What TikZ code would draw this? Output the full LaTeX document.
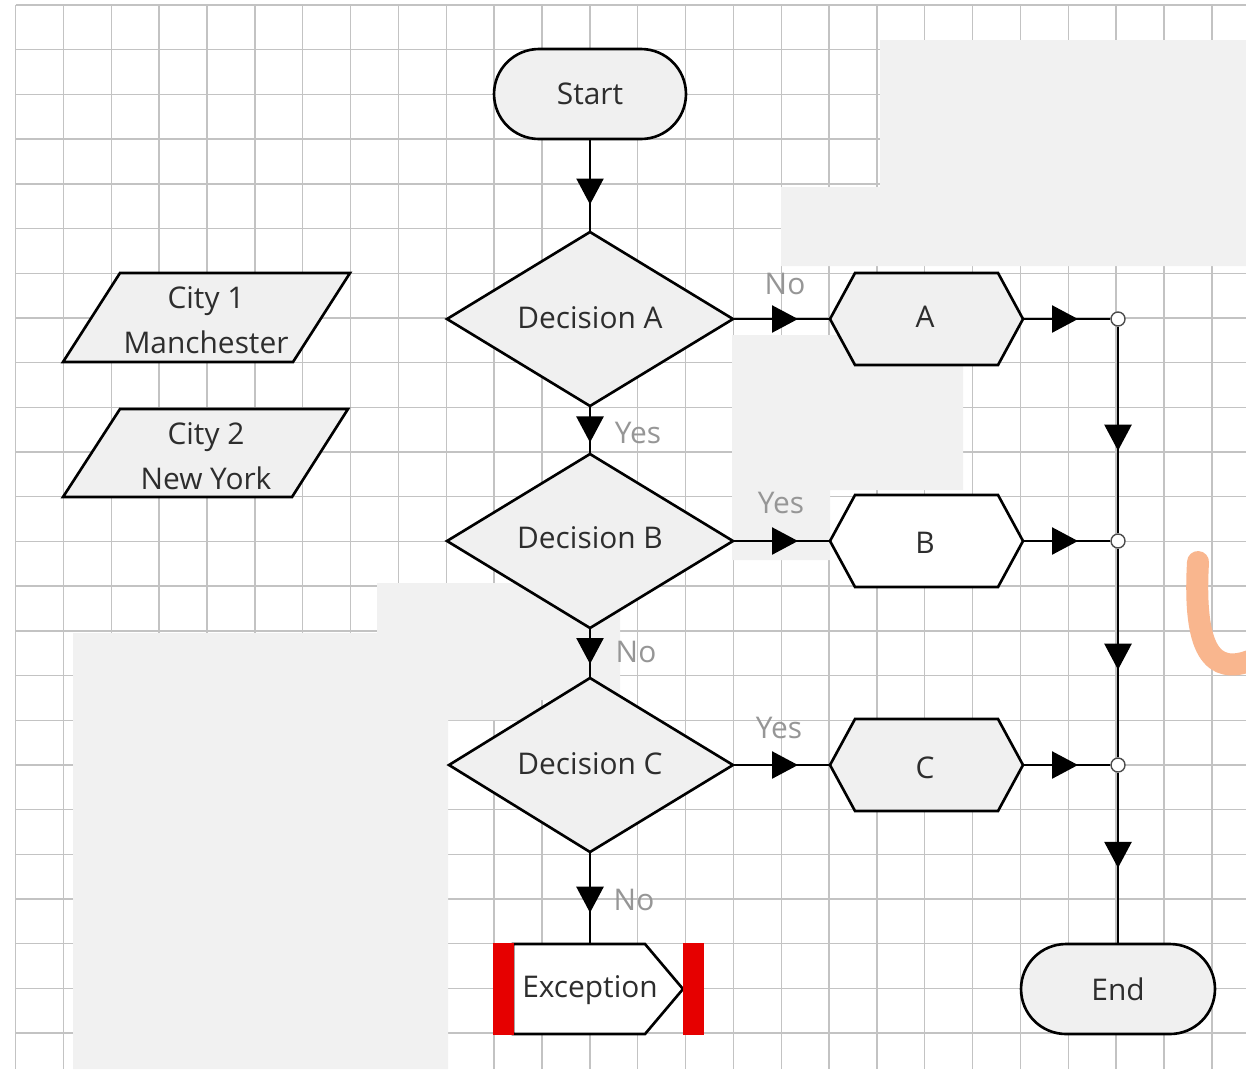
\documentclass[tikz,border=0pt]{standalone}
\usepackage{fontspec}
\setmainfont{Open Sans}
\usetikzlibrary{arrows.meta,decorations.markings}
\definecolor{gridc}{RGB}{195,195,195}
\definecolor{shapefill}{RGB}{240,240,240}
\definecolor{patchc}{RGB}{241,241,241}
\definecolor{txtc}{RGB}{45,45,45}
\definecolor{lblc}{RGB}{150,150,150}
\definecolor{exred}{RGB}{230,0,0}
\definecolor{wmark}{RGB}{249,182,142}
\begin{document}
\begin{tikzpicture}[x=0.02cm,y=-0.02cm,
  shp/.style={draw=black,line width=1.5pt,line join=miter,fill=shapefill},
  shpw/.style={shp,fill=white},
  txt/.style={text=txtc,font=\fontsize{17}{25.5}\selectfont,inner sep=0pt,align=center},
  lbl/.style={text=lblc,font=\fontsize{17}{20}\selectfont,inner sep=0pt},
  conn/.style={draw=black,line width=1.4pt},
  arrowat/.style={conn,postaction={decorate},decoration={markings,mark=at position #1 with {\arrow{Triangle[length=5.2mm,width=5.4mm]}}}},
  junc/.style={circle,draw=black!70,fill=white,line width=0.8pt,minimum size=0.28cm,inner sep=0pt},
  gridline/.style={draw=gridc,line width=0.8pt},
  patch/.style={fill=patchc}
]
\useasboundingbox (0,0) rectangle (1246,1069);
\fill[white] (0,0) rectangle (1246,1069);

% grid
\foreach \k in {0,...,25} \draw[gridline] ({15.6+47.85*\k},5) -- ({15.6+47.85*\k},1069);
\foreach \k in {0,...,23} \draw[gridline] (15.6,{5+44.7*\k}) -- (1246,{5+44.7*\k});

% light erased patches
\fill[patch] (73,633) -- (377,633) -- (377,583) -- (620,583) -- (620,700) -- (540,700) -- (540,720) -- (448,720) -- (448,1069) -- (73,1069) -- cycle;
\fill[patch] (880,40) -- (1246,40) -- (1246,266) -- (781,266) -- (781,187) -- (880,187) -- cycle;
\fill[patch] (732,335) -- (963,335) -- (963,490) -- (830,490) -- (830,560) -- (732,560) -- cycle;

% watermark fragment
\draw[wmark,line width=0.44cm,line cap=round] (1198,562) .. controls (1193,650) and (1212,676) .. (1252,660);

% Start
\node[shp,txt,rounded corners=0.9cm,minimum width=3.84cm,minimum height=1.8cm] (start) at (590,94) {Start};

% inputs
\draw[shp] (120,273) -- (350,273) -- (293,362) -- (63,362) -- cycle;
\node[txt] (city1) at (206,320) {City 1\\Manchester};
\draw[shp] (120,409) -- (348,409) -- (292,497) -- (63,497) -- cycle;
\node[txt] (city2) at (206,456) {City 2\\New York};

% decisions
\draw[shp] (447,319) -- (590,232) coordinate (dAt) -- (733,319) coordinate (dAr) -- (590,406) coordinate (dAb) -- cycle;
\node[txt] (dA) at (590,318) {Decision A};
\draw[shp] (447,541) -- (590,454) coordinate (dBt) -- (733,541) coordinate (dBr) -- (590,628) coordinate (dBb) -- cycle;
\node[txt] (dB) at (590,538) {Decision B};
\draw[shp] (449,765) -- (590,678) coordinate (dCt) -- (733,765) coordinate (dCr) -- (590,852) coordinate (dCb) -- cycle;
\node[txt] (dC) at (590,764) {Decision C};

% processes
\draw[shp] (830,319) coordinate (hAl) -- (855,273) -- (998,273) -- (1023,319) coordinate (hAr) -- (998,365) -- (855,365) -- cycle;
\node[txt] (hA) at (925,317) {A};
\draw[shpw] (830,541) coordinate (hBl) -- (855,495) -- (998,495) -- (1023,541) coordinate (hBr) -- (998,587) -- (855,587) -- cycle;
\node[txt] (hB) at (925,543) {B};
\draw[shp] (830,765) coordinate (hCl) -- (855,719) -- (998,719) -- (1023,765) coordinate (hCr) -- (998,811) -- (855,811) -- cycle;
\node[txt] (hC) at (925,768) {C};

% junctions
\node[junc] (j1) at (1118,319) {};
\node[junc] (j2) at (1118,541) {};
\node[junc] (j3) at (1118,765) {};

% End
\node[shp,txt,rounded corners=0.9cm,minimum width=3.88cm,minimum height=1.8cm] (end) at (1118,989) {End};

% Exception
\draw[shpw] (513,944) -- (645,944) -- (683,989) -- (645,1034) -- (513,1034) -- cycle;
\coordinate (exT) at (590,944);
\fill[exred] (493,943) rectangle (514,1035);
\fill[exred] (683,943) rectangle (704,1035);
\node[txt] (exc) at (590,990) {Exception};

% connectors
\draw[arrowat=0.7] (start.south) -- (dAt);
\draw[arrowat=0.76] (dAb) -- (dBt);
\draw[arrowat=0.72] (dBb) -- (dCt);
\draw[arrowat=0.66] (dCb) -- (exT);
\draw[arrowat=0.67] (dAr) -- (hAl);
\draw[arrowat=0.67] (dBr) -- (hBl);
\draw[arrowat=0.67] (dCr) -- (hCl);
\draw[arrowat=0.63] (hAr) -- (j1);
\draw[arrowat=0.63] (hBr) -- (j2);
\draw[arrowat=0.63] (hCr) -- (j3);
\draw[arrowat=0.6] (j1) -- (j2);
\draw[arrowat=0.58] (j2) -- (j3);
\draw[arrowat=0.56] (j3) -- (end.north);

% labels
\node[lbl] (lA) at (785,284) {No};
\node[lbl] (lAB) at (638,433) {Yes};
\node[lbl] (lB) at (781,503) {Yes};
\node[lbl] (lBC) at (636,652) {No};
\node[lbl] (lC) at (779,728) {Yes};
\node[lbl] (lCE) at (634,900) {No};
\end{tikzpicture}
\end{document}
